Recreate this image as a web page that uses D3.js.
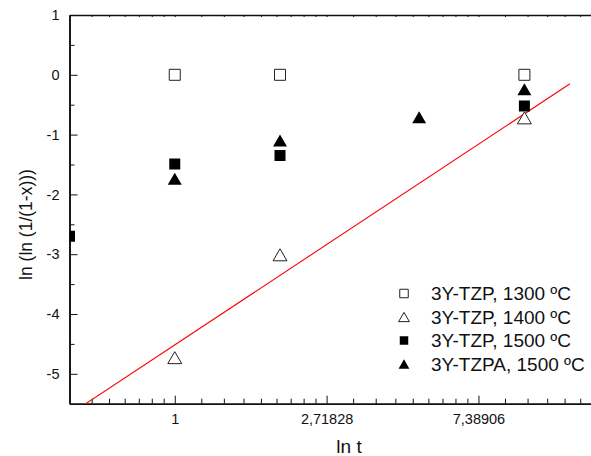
<!DOCTYPE html>
<html>
<head>
<meta charset="utf-8">
<script src="https://d3js.org/d3.v7.min.js"></script>
<style>
  body { margin: 0; background: #fff; }
  svg { display: block; font-family: "Liberation Sans", Arial, sans-serif; }
</style>
</head>
<body>
<svg id="chart" width="591" height="456"></svg>
<script>
// data (t in hours, y = ln(ln(1/(1-x))))
const seriesNames = ["3Y-TZP, 1300 ºC", "3Y-TZP, 1400 ºC", "3Y-TZP, 1500 ºC", "3Y-TZPA, 1500 ºC"];
const seriesSymbols = ["squareOpen", "triangleOpen", "squareFilled", "triangleFilled"];
const tzp1300 = [{t: 1, y: 0}, {t: 2, y: 0}, {t: 10, y: 0}];
const tzp1400 = [{t: 1, y: -4.73}, {t: 2, y: -3.01}, {t: 10, y: -0.72}];
const tzp1500 = [{t: 0.5, y: -2.70}, {t: 1, y: -1.49}, {t: 2, y: -1.35}, {t: 10, y: -0.52}];
const tzpa1500 = [{t: 1, y: -1.74}, {t: 2, y: -1.10}, {t: 5, y: -0.71}, {t: 10, y: -0.24}];
const fitLine = [{t: 0.5565, y: -5.5}, {t: 13.5, y: -0.15}];

const xMajorTicks = [1, Math.E, Math.E * Math.E];
const xTickLabels = ["1", "2,71828", "7,38906"];
const yMajorTicks = [-5, -4, -3, -2, -1, 0, 1];

const svg = d3.select("#chart");
const plotLeft = 69.5, plotTop = 15, plotBottom = 403.7;

const x = d3.scaleLog().base(Math.E).domain([0.5, 16])
  .range([plotLeft, plotLeft + Math.log(32) * 151.85]);
const y = d3.scaleLinear().domain([-5.5, 1]).range([plotBottom, plotTop]);
const plotRight = x.range()[1];

// minor ticks: 8 linear subdivisions between successive powers of e
const xMinor = [];
for (let n = -1; n <= 2; n++) {
  const a = Math.exp(n), b = Math.exp(n + 1);
  for (let k = 1; k <= 8; k++) {
    const v = a + k * (b - a) / 9;
    if (v > 0.51 && v < 16) xMinor.push(v);
  }
}
const yMinor = d3.range(-5.5, 1, 0.5).filter(v => !Number.isInteger(v) && v > -5.5);

svg.append("defs").append("clipPath").attr("id", "clip")
  .append("rect").attr("x", plotLeft).attr("y", plotTop)
  .attr("width", plotRight - plotLeft).attr("height", plotBottom - plotTop);

// axes
const axisStyle = g => {
  g.select(".domain").attr("stroke", "#111").attr("stroke-width", 1.6);
  g.selectAll(".tick line").attr("stroke", "#111").attr("stroke-width", 1);
  g.selectAll("text").attr("fill", "#111").style("font-size", "14.5px").style("font-family", "Liberation Sans, Arial, sans-serif");
};

svg.append("g").attr("transform", `translate(0,${plotBottom})`)
  .call(d3.axisBottom(x).tickValues(xMinor).tickSizeInner(-5).tickSizeOuter(0).tickFormat(""))
  .call(axisStyle);
svg.append("g").attr("transform", `translate(0,${plotBottom})`)
  .call(d3.axisBottom(x).tickValues(xMajorTicks).tickSizeInner(-8).tickSizeOuter(0).tickPadding(10.5)
    .tickFormat((d, i) => xTickLabels[i]))
  .call(axisStyle);

svg.append("g").attr("transform", `translate(0,${plotTop})`)
  .call(d3.axisBottom(x).tickValues(xMajorTicks.concat(xMinor)).tickSizeInner(2).tickSizeOuter(0).tickFormat(""))
  .call(axisStyle);

svg.append("g").attr("transform", `translate(${plotLeft},0)`)
  .call(d3.axisLeft(y).tickValues(yMinor).tickSizeInner(-5).tickSizeOuter(0).tickFormat(""))
  .call(axisStyle);
svg.append("g").attr("transform", `translate(${plotLeft},0)`)
  .call(d3.axisLeft(y).tickValues(yMajorTicks).tickSizeInner(-8).tickSizeOuter(0).tickPadding(10)
    .tickFormat(d => String(d)))
  .call(axisStyle);

// fit line
svg.append("path")
  .datum(fitLine)
  .attr("clip-path", "url(#clip)")
  .attr("fill", "none").attr("stroke", "#ff0000").attr("stroke-width", 1.1)
  .attr("d", d3.line().x(d => x(d.t)).y(d => y(d.y)));

// markers
function symbolPath(type, cx, cy, s) {
  if (type.startsWith("square")) {
    const h = s / 2;
    return `M${cx - h},${cy - h}h${s}v${s}h${-s}Z`;
  }
  const w = s * 1.27, hh = s * 1.09;
  return `M${cx},${cy - hh / 2}L${cx + w / 2},${cy + hh / 2}L${cx - w / 2},${cy + hh / 2}Z`;
}
function symbolStyle(sel, type) {
  if (type.endsWith("Open")) sel.attr("fill", "#fff").attr("stroke", "#222").attr("stroke-width", 1);
  else sel.attr("fill", "#000").attr("stroke", "none");
}

const allSeries = [tzp1300, tzp1400, tzp1500, tzpa1500];
const marks = svg.append("g").attr("clip-path", "url(#clip)");
allSeries.forEach((data, i) => {
  const type = seriesSymbols[i];
  marks.append("g").selectAll("path").data(data).join("path")
    .attr("d", d => symbolPath(type, x(d.t), y(d.y), 11))
    .call(symbolStyle, type);
});

// legend
const legend = svg.append("g");
seriesNames.forEach((name, i) => {
  const cy = 293.5 + i * 23.5;
  legend.append("path").attr("d", symbolPath(seriesSymbols[i], 404, cy, 8.5))
    .call(symbolStyle, seriesSymbols[i]);
  legend.append("text").attr("x", 431).attr("y", cy).attr("dy", "0.35em")
    .attr("fill", "#111").style("font-size", "19px").text(name);
});

// axis titles
svg.append("text").attr("x", 349).attr("y", 453).attr("text-anchor", "middle")
  .attr("fill", "#111").style("font-size", "19px").text("ln t");
svg.append("text").attr("transform", "translate(32,224.5) rotate(-90)")
  .attr("text-anchor", "middle").attr("fill", "#111").style("font-size", "17.5px")
  .text("ln (ln (1/(1-x)))");
</script>
</body>
</html>
